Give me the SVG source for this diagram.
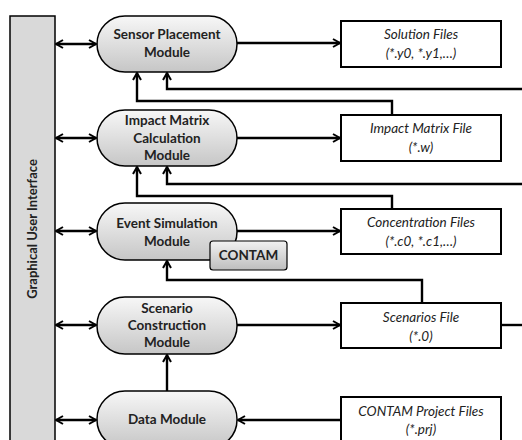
<svg xmlns="http://www.w3.org/2000/svg" width="522" height="440" viewBox="0 0 522 440">
<defs>
<linearGradient id="gMod" x1="0" y1="0" x2="0" y2="1">
<stop offset="0" stop-color="#f7f7f7"/>
<stop offset="1" stop-color="#c6c6c6"/>
</linearGradient>
<linearGradient id="gTool" x1="0" y1="0" x2="0" y2="1">
<stop offset="0" stop-color="#f2f2f2"/>
<stop offset="1" stop-color="#bdbdbd"/>
</linearGradient>
<marker id="arr" viewBox="0 0 10 10" refX="8.5" refY="5" markerWidth="10" markerHeight="10" markerUnits="userSpaceOnUse" orient="auto-start-reverse">
<path d="M1.5,1 L8.5,5 L1.5,9" fill="none" stroke="#000" stroke-width="2"/>
</marker>
<style>
.mod{fill:url(#gMod);stroke:#000;stroke-width:1.5}
.file{fill:#fff;stroke:#000;stroke-width:2}
.mt{font-family:Lato,"Liberation Sans",sans-serif;font-weight:bold;font-size:13.5px;text-anchor:middle;fill:#222}
.ft{font-family:Lato,"Liberation Sans",sans-serif;font-style:italic;font-size:13.5px;text-anchor:middle;fill:#222}
.ln{fill:none;stroke:#000;stroke-width:2.4;stroke-linejoin:miter}
.a{marker-end:url(#arr)}
.aa{marker-start:url(#arr);marker-end:url(#arr)}
</style>
</defs>

<g id="gui">
<rect x="10" y="16" width="45" height="440" fill="#d9d9d9" stroke="#000" stroke-width="1.5"/>
<text class="mt" style="font-size:13px" transform="translate(37,229) rotate(-90)">Graphical User Interface</text>
</g>

<g id="sensor-placement">
<rect class="mod" x="97" y="16" width="140" height="56" rx="28" ry="28"/>
<text class="mt" x="167" y="39">Sensor Placement</text>
<text class="mt" x="167" y="57">Module</text>
</g>

<g id="impact-matrix">
<rect class="mod" x="97" y="110" width="140" height="56" rx="28" ry="28"/>
<text class="mt" x="167" y="125">Impact Matrix</text>
<text class="mt" x="167" y="143">Calculation</text>
<text class="mt" x="167" y="160">Module</text>
</g>

<g id="event-simulation">
<rect class="mod" x="97" y="203" width="140" height="57" rx="28" ry="28"/>
<text class="mt" x="167" y="228">Event Simulation</text>
<text class="mt" x="167" y="246">Module</text>
</g>

<g id="contam">
<rect x="210" y="241" width="77" height="29" rx="3" ry="3" fill="url(#gTool)" stroke="#000" stroke-width="1.2"/>
<text class="mt" x="248.5" y="260">CONTAM</text>
</g>

<g id="scenario-construction">
<rect class="mod" x="97" y="297" width="140" height="57" rx="28" ry="28"/>
<text class="mt" x="167" y="313">Scenario</text>
<text class="mt" x="167" y="330">Construction</text>
<text class="mt" x="167" y="347">Module</text>
</g>

<g id="data-module">
<rect class="mod" x="97" y="391" width="140" height="57" rx="28" ry="28"/>
<text class="mt" x="167" y="424">Data Module</text>
</g>

<g id="solution-files">
<rect class="file" x="341" y="21" width="160" height="46"/>
<text class="ft" x="421" y="39">Solution Files</text>
<text class="ft" x="421" y="58">(*.y0, *.y1,…)</text>
</g>

<g id="impact-matrix-file">
<rect class="file" x="341" y="115" width="160" height="46"/>
<text class="ft" x="421" y="133">Impact Matrix File</text>
<text class="ft" x="421" y="152">(*.w)</text>
</g>

<g id="concentration-files">
<rect class="file" x="341" y="209" width="160" height="45"/>
<text class="ft" x="421" y="227">Concentration Files</text>
<text class="ft" x="421" y="246">(*.c0, *.c1,…)</text>
</g>

<g id="scenarios-file">
<rect class="file" x="341" y="303" width="160" height="45"/>
<text class="ft" x="421" y="322">Scenarios File</text>
<text class="ft" x="421" y="341">(*.0)</text>
</g>

<g id="contam-project-files">
<rect class="file" x="341" y="397" width="160" height="50"/>
<text class="ft" x="421" y="416">CONTAM Project Files</text>
<text class="ft" x="421" y="434">(*.prj)</text>
</g>

<g id="connectors">
<line class="ln aa" x1="56" y1="44" x2="96" y2="44"/>
<line class="ln aa" x1="56" y1="138" x2="96" y2="138"/>
<line class="ln aa" x1="56" y1="231" x2="96" y2="231"/>
<line class="ln aa" x1="56" y1="325" x2="96" y2="325"/>
<line class="ln aa" x1="56" y1="420" x2="96" y2="420"/>

<line class="ln a" x1="237" y1="43" x2="340" y2="43"/>
<line class="ln a" x1="237" y1="138" x2="340" y2="138"/>
<line class="ln a" x1="237" y1="231" x2="340" y2="231"/>
<line class="ln a" x1="237" y1="325" x2="340" y2="325"/>
<line class="ln a" x1="341" y1="420" x2="238" y2="420"/>

<polyline class="ln a" points="522,89 167,89 167,73"/>
<polyline class="ln a" points="392,115 392,101 137,101 137,73"/>
<polyline class="ln a" points="522,184 167,184 167,167"/>
<polyline class="ln a" points="392,209 392,196 137,196 137,167"/>
<polyline class="ln a" points="422,303 422,280 167,280 167,261"/>
<line class="ln" x1="501" y1="325" x2="522" y2="325"/>
<line class="ln a" x1="167" y1="391" x2="167" y2="355"/>
</g>
</svg>
